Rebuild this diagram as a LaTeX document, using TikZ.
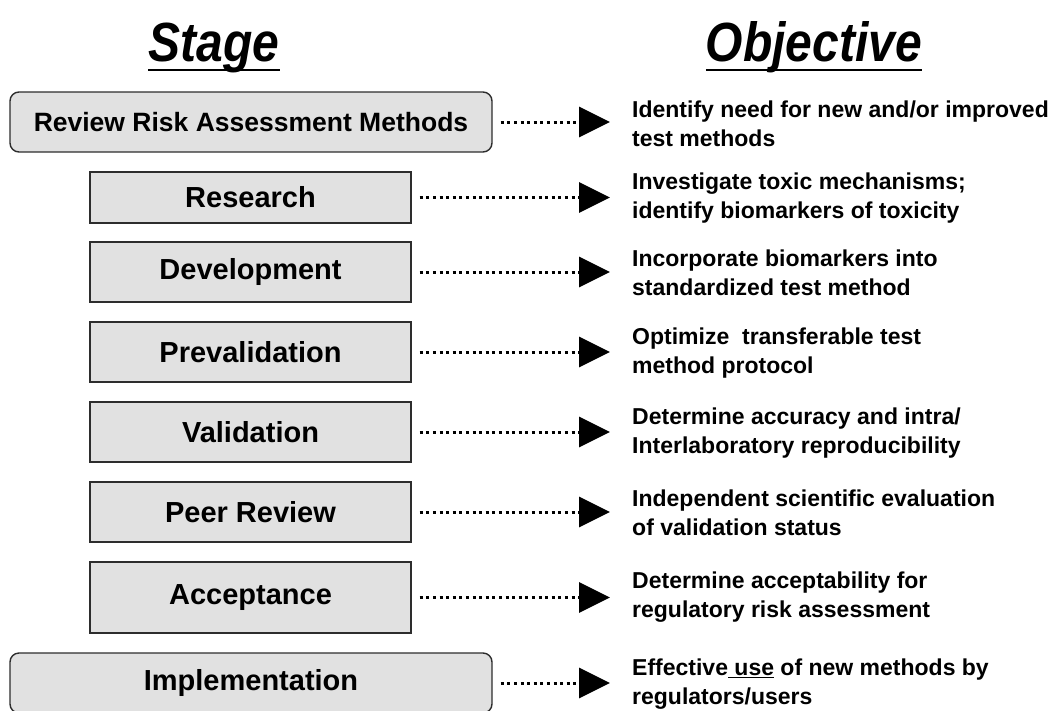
\documentclass[tikz,border=0pt]{standalone}
\usepackage{fontspec}
\setmainfont{Liberation Sans}
\usetikzlibrary{arrows.meta}
\definecolor{boxgray}{RGB}{225,225,225}
\definecolor{edgegray}{RGB}{45,45,45}
\newcommand\ulword[1]{\setbox0\hbox{#1}\rlap{\rule[-3pt]{\wd0}{1.6pt}}#1}
\begin{document}
\begin{tikzpicture}[x=1pt,y=-1pt,
  box/.style={draw=edgegray, line width=1.4pt, fill=boxgray, minimum height=60pt,
    font=\fontsize{29}{34}\selectfont\bfseries, inner sep=0pt},
  stagebox/.style={box, minimum width=321pt},
  roundbox/.style={box, rounded corners=9pt, minimum width=482pt},
  obj/.style={anchor=west, align=left, font=\fontsize{23}{29}\selectfont\bfseries, inner sep=0pt},
  link/.style={line width=3pt, dash pattern=on 3pt off 3.6pt,
    -{Triangle[length=31pt,width=30pt]}, shorten <=8pt, shorten >=22pt},
  head/.style={font=\fontsize{48}{52}\selectfont\bfseries\itshape, inner sep=0pt, anchor=base},
  headline/.style={line width=2pt}]
\useasboundingbox (0,0) rectangle (1055,710);
\clip (0,0) rectangle (1055,710);

% headings
\node[head] (hstage) at (214,61) {\scalebox{1}[1.15]{Stage}};
\node[head] (hobj) at (814,61) {\scalebox{1}[1.15]{Objective}};
\draw[headline] ([yshift=-9pt]hstage.base west) -- ([yshift=-9pt]hstage.base east);
\draw[headline] ([yshift=-9pt]hobj.base west) -- ([yshift=-9pt]hobj.base east);

% stage boxes
\node[roundbox, font=\fontsize{26.5}{30}\selectfont\bfseries] (rev) at (251,122) {Review Risk Assessment Methods};
\node[stagebox, minimum height=51pt] (res) at (250.5,197.5) {Research};
\node[stagebox] (dev) at (250.5,272) {Development};
\node[stagebox] (pre) at (250.5,352) {Prevalidation};
\node[stagebox] (val) at (250.5,432) {Validation};
\node[stagebox] (peer) at (250.5,512) {Peer Review};
\node[stagebox, minimum height=71pt] (acc) at (250.5,597.5) {Acceptance};
\node[roundbox] (imp) at (251,683) {Implementation};

% objectives
\node[obj] (orev) at (632,124) {Identify need for new and/or improved\\test methods};
\node[obj] (ores) at (632,198) {Investigate toxic mechanisms;\\identify biomarkers of toxicity};
\node[obj] (odev) at (632,273) {Incorporate biomarkers into\\standardized test method};
\node[obj] (opre) at (632,353) {Optimize\ \ transferable test\\method protocol};
\node[obj] (oval) at (632,433) {Determine accuracy and intra/\\Interlaboratory reproducibility};
\node[obj] (opeer) at (632,513) {Independent scientific evaluation\\of validation status};
\node[obj] (oacc) at (632,597) {Determine acceptability for\\regulatory risk assessment};
\node[obj] (oimp) at (632,684) {Effective\ulword{\ use} of new methods by\\regulators/users};

% connectors
\foreach \s/\o in {rev/orev, res/ores, dev/odev, pre/opre, val/oval, peer/opeer, acc/oacc, imp/oimp}
  \draw[link] (\s.east) -- (\s.east -| \o.west);
\end{tikzpicture}
\end{document}
